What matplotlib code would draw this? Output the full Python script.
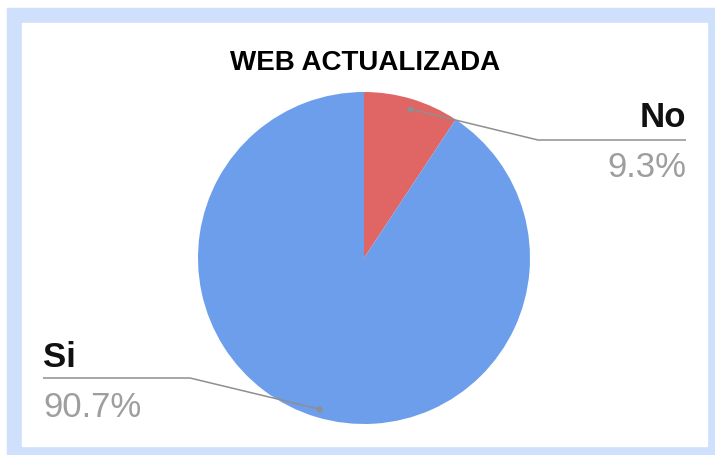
import matplotlib.pyplot as plt
from matplotlib.patches import Rectangle

# datos del grafico
etiquetas = ['No', 'Si']
valores = [9.3, 90.7]
colores = ['#e06666', '#6d9eeb']
titulo = 'WEB ACTUALIZADA'

plt.rcParams['font.family'] = ['Liberation Sans', 'DejaVu Sans']

W, H = 715, 455
fig = plt.figure(figsize=(W / 100, H / 100), dpi=100)
ax = fig.add_axes([0, 0, 1, 1])

def yy(y):
    # de pixel (desde arriba) a coordenada del eje
    return H - y

# marco azul claro
ax.add_patch(Rectangle((7, 0), W - 7, H - 8, color='#cfe0fc', zorder=0))
ax.add_patch(Rectangle((22, yy(446)), 685, 423, color='white', zorder=1))

ax.pie(valores, colors=colores, startangle=90, counterclock=False,
       center=(364, yy(258)), radius=166, wedgeprops={'linewidth': 0, 'zorder': 2})

ax.set_xlim(0, W)
ax.set_ylim(0, H)
ax.set_aspect('auto')
ax.axis('off')

ax.text(365, yy(70), titulo, ha='center', va='baseline', fontsize=20,
        fontweight='bold', color='black', zorder=5)

# lineas guia
gris_linea = '#8f8f8f'
guias = {
    'No': [(410, 109), (538, 140), (686, 140)],
    'Si': [(319, 409), (190, 378), (43, 378)],
}
for nom, pts in guias.items():
    xs = [p[0] for p in pts]
    ys = [yy(p[1]) for p in pts]
    ax.plot(xs, ys, color=gris_linea, lw=1.1, zorder=4, solid_capstyle='butt')
    ax.plot(xs[0], ys[0], 'o', color=gris_linea, ms=3.5, zorder=4)

pct = {e: f'{v:.1f}%' for e, v in zip(etiquetas, valores)}

ax.text(686, yy(127), 'No', ha='right', va='baseline', fontsize=25,
        fontweight='bold', color='#111111', zorder=5)
ax.text(686, yy(177), pct['No'], ha='right', va='baseline', fontsize=25,
        color='#9e9e9e', zorder=5)
ax.text(43, yy(367), 'Si', ha='left', va='baseline', fontsize=25,
        fontweight='bold', color='#111111', zorder=5)
ax.text(43, yy(417), pct['Si'], ha='left', va='baseline', fontsize=25,
        color='#9e9e9e', zorder=5)

fig.savefig('out.png', dpi=100)
